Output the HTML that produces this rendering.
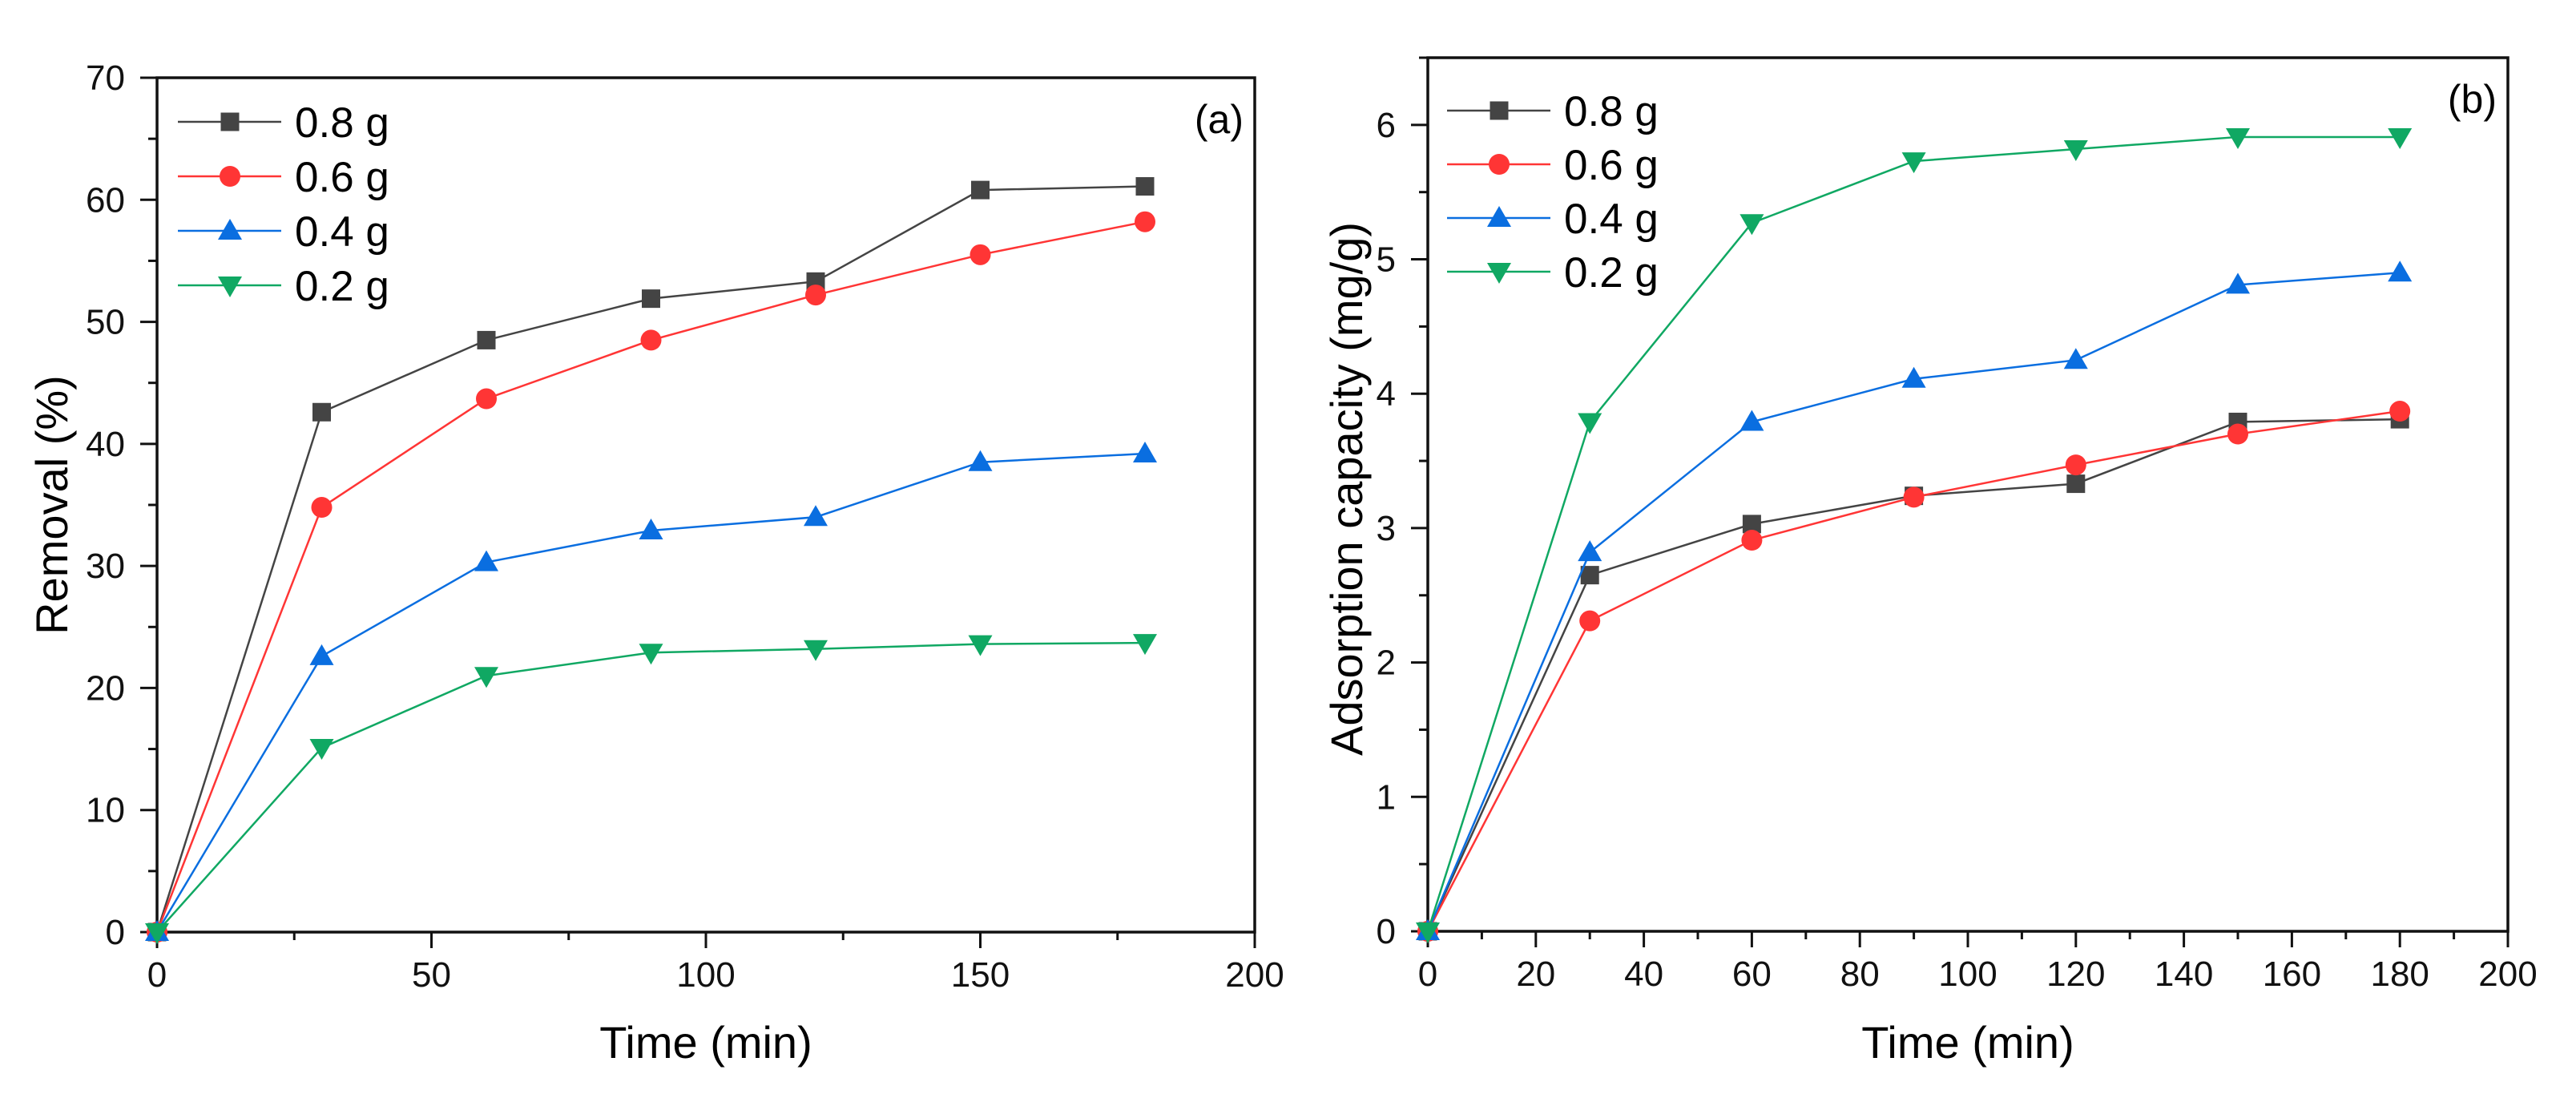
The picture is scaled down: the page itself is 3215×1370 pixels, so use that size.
<!DOCTYPE html>
<html><head><meta charset="utf-8"><style>
html,body{margin:0;padding:0;background:#fff;}
svg{display:block;font-family:"Liberation Sans",Arial,sans-serif;}
</style></head><body>
<svg id="fig" width="3215" height="1370" viewBox="0 0 3215 1370"></svg>
<script>
const times = [0,30,60,90,120,150,180];
const seriesNames = ["0.8 g","0.6 g","0.4 g","0.2 g"];
const removal08 = [0,42.6,48.5,51.9,53.3,60.8,61.1];
const removal06 = [0,34.8,43.7,48.5,52.2,55.5,58.2];
const removal04 = [0,22.6,30.3,32.9,34.0,38.5,39.2];
const removal02 = [0,15.1,21.0,22.9,23.2,23.6,23.7];
const capacity08 = [0,2.65,3.03,3.24,3.33,3.79,3.81];
const capacity06 = [0,2.31,2.91,3.23,3.47,3.70,3.87];
const capacity04 = [0,2.82,3.79,4.11,4.25,4.81,4.90];
const capacity02 = [0,3.79,5.27,5.73,5.82,5.91,5.91];
const xTicksA = [0,50,100,150,200];
const yTicksA = [0,10,20,30,40,50,60,70];
const xTicksB = [0,20,40,60,80,100,120,140,160,180,200];
const yTicksB = [0,1,2,3,4,5,6];

const NS="http://www.w3.org/2000/svg";
const svg=document.getElementById('fig');
function mk(tag,attrs,parent){const e=document.createElementNS(NS,tag);for(const k in attrs)e.setAttribute(k,attrs[k]);(parent||svg).appendChild(e);return e;}
const colors=["#444444","#ff3535","#0a6ee0","#10a863"];
const shapes=["square","circle","up","down"];

function marker(g,shape,x,y,c){
  let e;
  if(shape==="square") e=mk('rect',{x:x-11.5,y:y-11.5,width:23,height:23,fill:c},g);
  else if(shape==="circle") e=mk('circle',{cx:x,cy:y,r:13,fill:c},g);
  else if(shape==="up") e=mk('polygon',{points:`${x-15},${y+11} ${x+15},${y+11} ${x},${y-15}`,fill:c},g);
  else e=mk('polygon',{points:`${x-15},${y-11} ${x+15},${y-11} ${x},${y+15}`,fill:c},g);
  
  
}

function panel(cfg){
  const g=mk('g',{});
  
  
  const {x0,x1,y0,y1,xmax,ymax}=cfg;
  const X=v=>x0+(v/xmax)*(x1-x0);
  const Y=v=>y0-(v/ymax)*(y0-y1);
  cfg.xTicks.forEach((t,i)=>{
    mk('line',{x1:X(t),x2:X(t),y1:y0,y2:y0+20,stroke:'#111','stroke-width':3},g);
    const lbl=mk('text',{x:X(t),y:y0+68,'font-size':44,'text-anchor':'middle',fill:'#111'},g);
    lbl.textContent=t;
    
    
    if(i<cfg.xTicks.length-1){const m=(t+cfg.xTicks[i+1])/2;mk('line',{x1:X(m),x2:X(m),y1:y0,y2:y0+10,stroke:'#111','stroke-width':3},g);}
  });
  cfg.yTicks.forEach((t,i)=>{
    mk('line',{x1:x0,x2:x0-21,y1:Y(t),y2:Y(t),stroke:'#111','stroke-width':3},g);
    const lbl=mk('text',{x:x0-40,y:Y(t)+15,'font-size':44,'text-anchor':'end',fill:'#111'},g);
    lbl.textContent=t;
    
    
    const m=t+(cfg.yTicks[1]-cfg.yTicks[0])/2;
    if(m<=ymax) mk('line',{x1:x0,x2:x0-11,y1:Y(m),y2:Y(m),stroke:'#111','stroke-width':3},g);
  });
  const box=mk('rect',{x:x0,y:y1,width:x1-x0,height:y0-y1,fill:'none',stroke:'#111','stroke-width':3.5},g);
  
  
  const xt=mk('text',{x:(x0+x1)/2,y:1320,'font-size':56,'text-anchor':'middle',fill:'#000'},g);
  xt.textContent='Time (min)';
  
  
  const yt=mk('text',{x:0,y:0,'font-size':56,'text-anchor':'middle',fill:'#000',transform:`translate(${cfg.ytx},${cfg.yty}) rotate(-90)`},g);
  yt.textContent=cfg.ytitle;
  
  
  const pl=mk('text',{x:x1-14,y:y1+69,'font-size':50,'text-anchor':'end',fill:'#000'},g);
  pl.textContent=cfg.label;
  
  
  cfg.series.forEach((vals,si)=>{
    const sg=mk('g',{},g);
    
    
    const pts=vals.map((v,i)=>X(times[i])+','+Y(v)).join(' ');
    mk('polyline',{points:pts,fill:'none',stroke:colors[si],'stroke-width':2.5},sg);
    vals.forEach((v,i)=>marker(sg,shapes[si],X(times[i]),Y(v),colors[si]));
  });
  const lg=mk('g',{},g);
  
  
  seriesNames.forEach((n,si)=>{
    const y=cfg.legY+si*cfg.legDy;
    const e=mk('g',{},lg);
    
    
    mk('line',{x1:cfg.legX,x2:cfg.legX+129,y1:y,y2:y,stroke:colors[si],'stroke-width':2.5},e);
    marker(e,shapes[si],cfg.legX+65,y,colors[si]);
    const t=mk('text',{x:cfg.legX+146,y:y+19,'font-size':53,fill:'#000'},e);
    t.textContent=n;
  });
}

panel({name:'panel-a-removal',x0:196,x1:1566,y0:1163,y1:97,xmax:200,ymax:70,
  xTicks:xTicksA,yTicks:yTicksA,ytitle:'Removal (%)',ytx:84,yty:630,label:'(a)',
  series:[removal08,removal06,removal04,removal02],legX:222,legY:152,legDy:68});
panel({name:'panel-b-capacity',x0:1782,x1:3130,y0:1162,y1:72,xmax:200,ymax:6.5,
  xTicks:xTicksB,yTicks:yTicksB,ytitle:'Adsorption capacity (mg/g)',ytx:1700,yty:610,label:'(b)',
  series:[capacity08,capacity06,capacity04,capacity02],legX:1806,legY:138,legDy:67});
</script>
</body></html>
